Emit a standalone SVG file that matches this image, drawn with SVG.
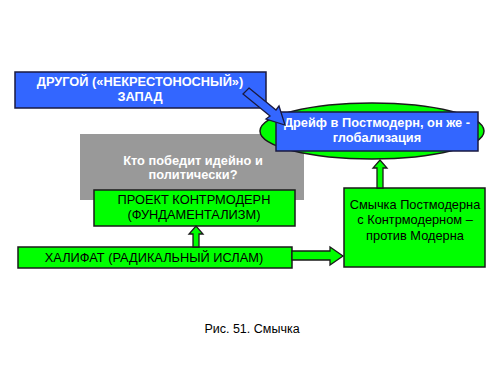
<svg xmlns="http://www.w3.org/2000/svg" width="500" height="375" viewBox="0 0 500 375">
<style>
.blue{fill:#3366ff;stroke:#1a1a40;stroke-width:1.5}
.green{fill:#00ff00;stroke:#1a1a1a;stroke-width:1.5}
.grey{fill:#999999}
.bt{font-family:"Liberation Sans",Arial,sans-serif;font-size:12.8px;font-weight:bold;fill:#ffffff;text-anchor:middle}
.gt{font-family:"Liberation Sans",Arial,sans-serif;font-size:12.8px;fill:#000000;text-anchor:middle}
.cap{font-family:"Liberation Sans",Arial,sans-serif;font-size:12.5px;fill:#000000;text-anchor:middle}
.arrG{fill:#00ff00;stroke:#1a1a1a;stroke-width:1.3}
.arrB{fill:#3366ff;stroke:#1a1a40;stroke-width:1.3}
</style>
<rect width="500" height="375" fill="#ffffff"/>
<g id="west">
<rect class="blue" x="15" y="72" width="251" height="36"/>
<text class="bt" x="140" y="86">ДРУГОЙ («НЕКРЕСТОНОСНЫЙ»)</text>
<text class="bt" x="140" y="101">ЗАПАД</text>
</g>
<g id="question">
<rect class="grey" x="80" y="134" width="224" height="66"/>
<text class="bt" x="193" y="165">Кто победит идейно и</text>
<text class="bt" x="193" y="179">политически?</text>
</g>
<g id="drift">
<ellipse class="green" cx="372" cy="131" rx="112" ry="28"/>
<rect class="blue" x="276" y="112" width="202" height="39"/>
<text class="bt" x="377" y="127">Дрейф в Постмодерн, он же -</text>
<text class="bt" x="377" y="142">глобализация</text>
</g>
<g id="project">
<rect class="green" x="94" y="190" width="201" height="36"/>
<text class="gt" x="194" y="204">ПРОЕКТ КОНТРМОДЕРН</text>
<text class="gt" x="194" y="219">(ФУНДАМЕНТАЛИЗМ)</text>
</g>
<g id="caliphate">
<rect class="green" x="18" y="247" width="274" height="21"/>
<text class="gt" x="154" y="262">ХАЛИФАТ (РАДИКАЛЬНЫЙ ИСЛАМ)</text>
</g>
<g id="smychka">
<rect class="green" x="344" y="188" width="141" height="79"/>
<text class="gt" x="415" y="209">Смычка Постмодерна</text>
<text class="gt" x="415" y="224">с Контрмодерном –</text>
<text class="gt" x="415" y="240">против Модерна</text>
</g>
<g id="connectors">
<polygon class="arrB" points="249,88 276,110 279,106 285,125 266,119 270,116 243,94"/>
<polygon class="arrG" points="193,247 193,234 189,234 196,226 203,234 199,234 199,247"/>
<polygon class="arrG" points="292,251 330,251 330,247 343,256 330,265 330,260 292,260"/>
<polygon class="arrG" points="377,188 377,168 373,168 380,160 387,168 383,168 383,188"/>
</g>
<text class="cap" x="252" y="333">Рис. 51. Смычка</text>
</svg>
